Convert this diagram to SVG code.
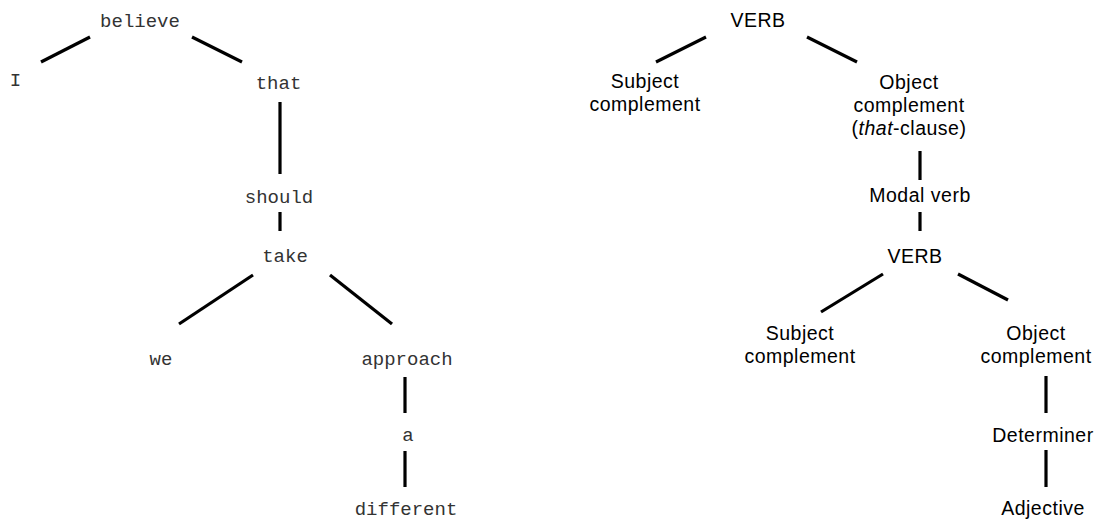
<svg xmlns="http://www.w3.org/2000/svg" width="1102" height="520" viewBox="0 0 1102 520">
<style>
.m{font-family:"Liberation Mono","Courier New",monospace;font-size:19px;fill:#333;text-anchor:middle}
.s{font-family:"Liberation Sans",Arial,sans-serif;font-size:19.5px;letter-spacing:0.5px;fill:#000;text-anchor:middle}
.c line{stroke:#000;stroke-width:3.2;stroke-linecap:butt}
</style>
<rect width="1102" height="520" fill="#fff"/>
<g class="c" id="connectors">
<line x1="90" y1="37" x2="41" y2="62"/>
<line x1="192" y1="37" x2="242" y2="62"/>
<line x1="280" y1="102" x2="280" y2="174"/>
<line x1="280" y1="212" x2="280" y2="231"/>
<line x1="253" y1="275" x2="179" y2="324"/>
<line x1="330" y1="275" x2="392" y2="324"/>
<line x1="405" y1="377" x2="405" y2="413"/>
<line x1="405" y1="451" x2="405" y2="487"/>
<line x1="706" y1="37" x2="656" y2="62"/>
<line x1="807" y1="37" x2="857" y2="62"/>
<line x1="920" y1="151" x2="920" y2="180"/>
<line x1="920" y1="212" x2="920" y2="231"/>
<line x1="883" y1="274" x2="821" y2="312"/>
<line x1="958" y1="274" x2="1008" y2="300"/>
<line x1="1046" y1="376" x2="1046" y2="413"/>
<line x1="1046" y1="450" x2="1046" y2="487"/>
</g>
<g id="n-believe"><text class="m" x="140" y="27">believe</text></g>
<g id="n-I"><text class="m" x="15.5" y="86">I</text></g>
<g id="n-that"><text class="m" x="278.5" y="89">that</text></g>
<g id="n-should"><text class="m" x="279" y="203">should</text></g>
<g id="n-take"><text class="m" x="285" y="262">take</text></g>
<g id="n-we"><text class="m" x="161" y="365">we</text></g>
<g id="n-approach"><text class="m" x="407" y="365">approach</text></g>
<g id="n-a"><text class="m" x="408" y="441">a</text></g>
<g id="n-different"><text class="m" x="406" y="515">different</text></g>
<g id="n-verb1"><text class="s" x="758" y="27">VERB</text></g>
<g id="n-subj1"><text class="s" x="645" y="88">Subject</text><text class="s" x="645" y="111">complement</text></g>
<g id="n-obj1"><text class="s" x="909" y="89">Object</text><text class="s" x="909" y="112">complement</text><text class="s" x="909" y="135">(<tspan font-style="italic">that</tspan>-clause)</text></g>
<g id="n-modal"><text class="s" x="920" y="202">Modal verb</text></g>
<g id="n-verb2"><text class="s" x="915" y="263">VERB</text></g>
<g id="n-subj2"><text class="s" x="800" y="340">Subject</text><text class="s" x="800" y="363">complement</text></g>
<g id="n-obj2"><text class="s" x="1036" y="340">Object</text><text class="s" x="1036" y="363">complement</text></g>
<g id="n-det"><text class="s" x="1043" y="442">Determiner</text></g>
<g id="n-adj"><text class="s" x="1043" y="515">Adjective</text></g>
</svg>
